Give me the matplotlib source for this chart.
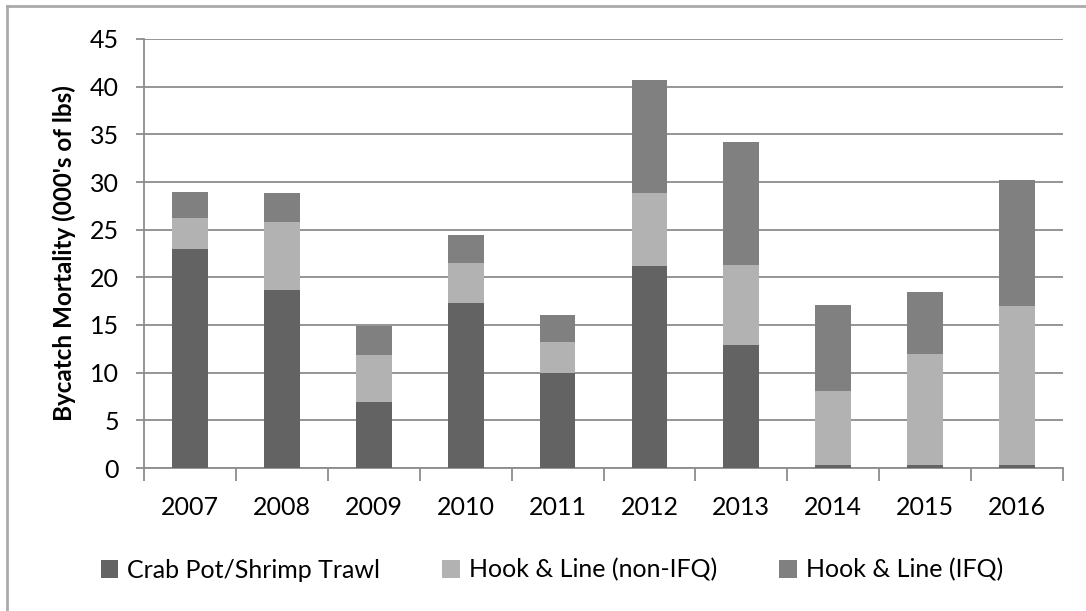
import matplotlib
matplotlib.use('Agg')
import matplotlib.pyplot as plt
from matplotlib.lines import Line2D
import numpy as np

years = ['2007', '2008', '2009', '2010', '2011', '2012', '2013', '2014', '2015', '2016']
crab_pot = [23.0, 18.7, 6.9, 17.3, 10.0, 21.2, 12.9, 0.3, 0.3, 0.3]
hook_non_ifq = [3.2, 7.1, 5.0, 4.2, 3.2, 7.6, 8.4, 7.8, 11.7, 16.7]
hook_ifq = [2.8, 3.0, 3.0, 2.9, 2.9, 11.9, 12.9, 9.0, 6.5, 13.2]

series = [
    ('Crab Pot/Shrimp Trawl', crab_pot, '#636363'),
    ('Hook & Line (non-IFQ)', hook_non_ifq, '#b2b2b2'),
    ('Hook & Line (IFQ)', hook_ifq, '#808080'),
]

plt.rcParams['font.family'] = ['Lato', 'DejaVu Sans']

fig = plt.figure(figsize=(10.86, 6.11), dpi=100)
ax = fig.add_axes([144 / 1086, 1 - 468 / 611, (1063 - 144) / 1086, (468 - 39) / 611])

x = np.arange(len(years))
bottom = np.zeros(len(years))
handles = []
for name, vals, color in series:
    b = ax.bar(x, vals, width=0.39, bottom=bottom, color=color, label=name, zorder=3)
    bottom += np.array(vals)
    handles.append(b)

ax.set_xlim(-0.5, len(years) - 0.5)
ax.set_ylim(0, 45)
ax.set_yticks(range(0, 46, 5))
ax.set_xticks(x)
ax.set_xticklabels(years)
ax.yaxis.grid(True, color='#8c8c8c', linewidth=1.3, zorder=0)
ax.set_axisbelow(True)

for side in ['top', 'right']:
    ax.spines[side].set_visible(False)
for side in ['left', 'bottom']:
    ax.spines[side].set_color('#8c8c8c')
    ax.spines[side].set_linewidth(1.3)

# y ticks point outward, x ticks sit between categories
ax.tick_params(axis='y', length=6, width=1.3, color='#8c8c8c', labelsize=18, pad=12, direction='out')
ax.tick_params(axis='x', length=0, labelsize=18, pad=20)
ax.set_xticks(np.arange(-0.5, len(years), 1), minor=True)
ax.tick_params(axis='x', which='minor', length=9, width=1.3, color='#8c8c8c', direction='out')

ax.set_ylabel("Bycatch Mortality (000's of lbs)", fontsize=17.5, fontweight='bold', labelpad=10)

fig.legend(handles=handles, loc='center', bbox_to_anchor=(0.508, 1 - 570 / 611), ncol=3,
           frameon=False, fontsize=18, handlelength=0.7, handleheight=0.7,
           handletextpad=0.35, columnspacing=2.5)

# outer frame of the original figure (top and left edges only)
fig.add_artist(Line2D([7 / 1086, 1.0], [1 - 6 / 611, 1 - 6 / 611], color='#aaaaaa', linewidth=2))
fig.add_artist(Line2D([7 / 1086, 7 / 1086], [0, 1 - 6 / 611], color='#aaaaaa', linewidth=2))

fig.savefig('out.png', dpi=100)
